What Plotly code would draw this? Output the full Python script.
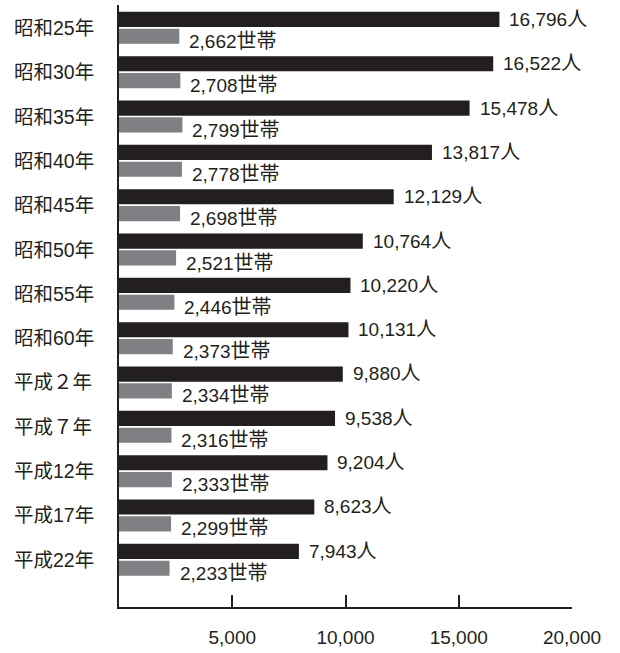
import plotly.graph_objects as go

# 国勢調査年ごとの人口と世帯数
years = ["昭和25年", "昭和30年", "昭和35年", "昭和40年", "昭和45年", "昭和50年",
         "昭和55年", "昭和60年", "平成２年", "平成７年", "平成12年", "平成17年", "平成22年"]
population = [16796, 16522, 15478, 13817, 12129, 10764, 10220, 10131, 9880, 9538, 9204, 8623, 7943]
households = [2662, 2708, 2799, 2778, 2698, 2521, 2446, 2373, 2334, 2316, 2333, 2299, 2233]
x_ticks = [5000, 10000, 15000, 20000]

INK = "#231f20"
GRAY = "#7f8083"
FONT = "Liberation Sans, Arial, Noto Sans CJK JP, sans-serif"
CJK = '<span style="font-size:20px">{}</span>'


def label_font(size=19):
    return dict(size=size, color=INK, family=FONT)


fig = go.Figure()
fig.add_trace(go.Bar(y=years, x=population, orientation="h", marker=dict(color=INK, line_width=0),
                     name="人口", hoverinfo="skip"))
fig.add_trace(go.Bar(y=years, x=households, orientation="h", marker=dict(color=GRAY, line_width=0),
                     name="世帯数", hoverinfo="skip"))

annotations = []
for yr, p, h in zip(years, population, households):
    annotations.append(dict(x=p, y=yr, xref="x", yref="y", text=f"{p:,}" + CJK.format("人"),
                            showarrow=False, xanchor="left", yanchor="middle", xshift=8, yshift=9,
                            font=label_font()))
    annotations.append(dict(x=h, y=yr, xref="x", yref="y", text=f"{h:,}" + CJK.format("世帯"),
                            showarrow=False, xanchor="left", yanchor="middle", xshift=8, yshift=-13,
                            font=label_font()))
    annotations.append(dict(x=-0.236, y=yr, xref="paper", yref="y", text=yr, showarrow=False,
                            xanchor="left", yanchor="middle", font=label_font(19.5)))

fig.update_layout(
    width=620, height=653,
    margin=dict(l=119, r=48, t=5, b=42),
    paper_bgcolor="white", plot_bgcolor="white",
    barmode="group", bargap=0.24, bargroupgap=0.1,
    showlegend=False,
    annotations=annotations,
    font=dict(family=FONT, size=19, color=INK),
)
fig.update_xaxes(
    range=[0, 20000], tickvals=x_ticks, ticktext=[f"{v:,}" for v in x_ticks],
    ticks="inside", ticklen=12, tickwidth=2, tickcolor=INK,
    showline=True, linewidth=2, linecolor=INK, showgrid=False, zeroline=False,
    ticklabelstandoff=12, tickfont=label_font(19),
)
fig.update_yaxes(
    type="category", categoryorder="array", categoryarray=years,
    range=[len(years) - 1 + 1.065, -0.516],
    showticklabels=False, ticks="", showline=True, linewidth=2, linecolor=INK,
    showgrid=False, zeroline=False,
)

fig.write_html("out.html")
